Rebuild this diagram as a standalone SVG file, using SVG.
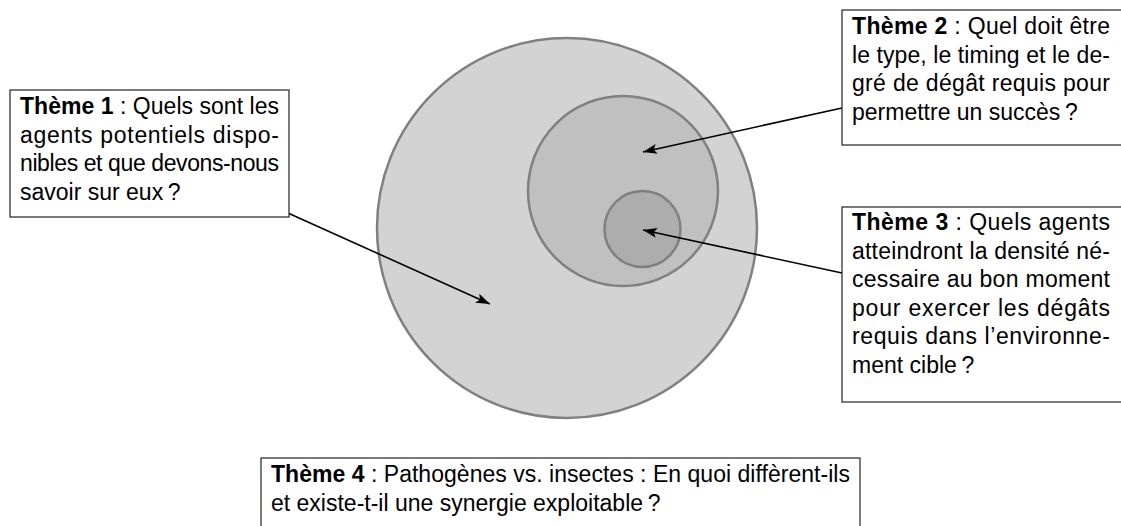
<svg xmlns="http://www.w3.org/2000/svg" width="1121" height="526" viewBox="0 0 1121 526">
<defs>
<style>
.c{stroke:#808080;stroke-width:2.5}
.box{fill:#fff;stroke:#222;stroke-width:1.2}
text{font-family:"Liberation Sans",Arial,sans-serif;font-size:23px;fill:#000}
.b{font-weight:bold}
.ar{stroke:#000;stroke-width:1.6;fill:none;marker-end:url(#ah)}
</style>
<marker id="ah" markerUnits="userSpaceOnUse" markerWidth="15" markerHeight="10" refX="14" refY="5" orient="auto">
<path d="M0,0 L14,5 L0,10 L3,5 z" fill="#000"/>
</marker>
</defs>
<rect width="1121" height="526" fill="#fff"/>
<g id="circles">
<circle class="c" cx="567" cy="228" r="190" fill="#d3d3d3"/>
<circle class="c" cx="623" cy="191" r="95" fill="#c0c0c0"/>
<circle class="c" cx="642.5" cy="229" r="38" fill="#adadad"/>
</g>
<g id="connectors">
<line class="ar" x1="289" y1="213.5" x2="490" y2="304"/>
<line class="ar" x1="842" y1="108" x2="643" y2="152"/>
<line class="ar" x1="842" y1="273" x2="643" y2="230"/>
</g>
<g id="theme1">
<rect class="box" x="10" y="90" width="279" height="127"/>
<text x="20" y="114" textLength="259" lengthAdjust="spacing"><tspan class="b">Thème 1</tspan> : Quels sont les</text>
<text x="20" y="142.5" textLength="259" lengthAdjust="spacing">agents potentiels dispo-</text>
<text x="20" y="171" textLength="259" lengthAdjust="spacing">nibles et que devons-nous</text>
<text x="20" y="199.5">savoir sur eux&#8201;?</text>
</g>
<g id="theme2">
<rect class="box" x="842" y="10" width="285" height="135"/>
<text x="852" y="34" textLength="258" lengthAdjust="spacing"><tspan class="b">Thème 2</tspan> : Quel doit être</text>
<text x="852" y="62.5" textLength="258" lengthAdjust="spacing">le type, le timing et le de-</text>
<text x="852" y="91" textLength="258" lengthAdjust="spacing">gré de dégât requis pour</text>
<text x="852" y="119.5">permettre un succès&#8201;?</text>
</g>
<g id="theme3">
<rect class="box" x="842" y="207" width="285" height="195"/>
<text x="852" y="230" textLength="258" lengthAdjust="spacing"><tspan class="b">Thème 3</tspan> : Quels agents</text>
<text x="852" y="258.5" textLength="258" lengthAdjust="spacing">atteindront la densité né-</text>
<text x="852" y="287" textLength="258" lengthAdjust="spacing">cessaire au bon moment</text>
<text x="852" y="315.5" textLength="258" lengthAdjust="spacing">pour exercer les dégâts</text>
<text x="852" y="344" textLength="258" lengthAdjust="spacing">requis dans l’environne-</text>
<text x="852" y="372.5">ment cible&#8201;?</text>
</g>
<g id="theme4">
<rect class="box" x="261" y="458" width="599" height="90"/>
<text x="271" y="482" textLength="579" lengthAdjust="spacing"><tspan class="b">Thème 4</tspan> : Pathogènes vs. insectes : En quoi diffèrent-ils</text>
<text x="271" y="510.5">et existe-t-il une synergie exploitable&#8201;?</text>
</g>
</svg>
